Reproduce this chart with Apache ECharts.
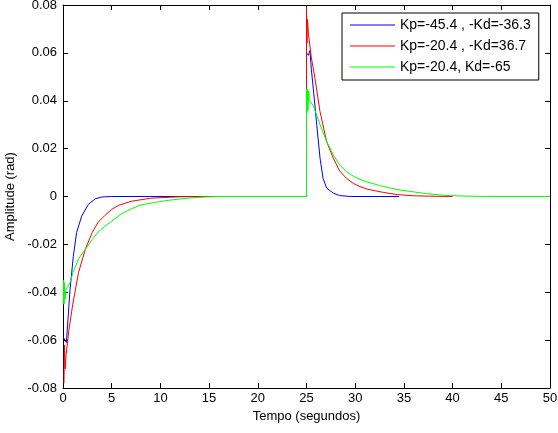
<!DOCTYPE html>
<html>
<head>
<meta charset="utf-8">
<script src="https://cdn.jsdelivr.net/npm/echarts@6/dist/echarts.min.js"></script>
<style>
html,body{margin:0;padding:0;background:#fff;}
#chart{width:558px;height:433px;}
</style>
</head>
<body>
<div id="chart"></div>
<script>
// Tick values
var xTicks = [0, 5, 10, 15, 20, 25, 30, 35, 40, 45, 50];
var yTicks = [-0.08, -0.06, -0.04, -0.02, 0, 0.02, 0.04, 0.06, 0.08];

// Series names
var seriesNames = ['Kp=-45.4 , -Kd=-36.3', 'Kp=-20.4 , -Kd=36.7', 'Kp=-20.4, Kd=-65'];

// Blue: Kp=-45.4, -Kd=-36.3
var blueT = [0.02, 0.2, 0.35, 0.5, 0.72, 1.06, 1.4, 1.92, 2.6, 3.3, 4, 5, 9, 25,
             25, 25.2, 25.35, 25.5, 25.7, 26.05, 26.39, 26.7, 27.07, 27.75, 28.4, 29.5, 34.5];
var blueY = [-0.0588, -0.060, -0.061, -0.052, -0.039, -0.025, -0.015, -0.0082, -0.0033, -0.001, -0.0002, 0, 0, 0,
             0.060, 0.059, 0.061, 0.053, 0.045, 0.030, 0.016, 0.0076, 0.0035, 0.0014, 0.0004, 0, 0];

// Red: Kp=-20.4, -Kd=36.7
var redT = [0.1, 0.15, 0.22, 0.32, 0.6, 1.0, 1.6, 2.3, 3.0, 3.6, 4.3, 5, 5.7, 7, 9, 12, 15, 25,
            25, 25.05, 25.1, 25.2, 25.5, 25.87, 26.39, 27.07, 27.75, 28.4, 29.1, 29.8, 30.4, 31.2, 32.9, 34.3, 36, 38, 40];
var redY = [-0.078, -0.062, -0.072, -0.066, -0.056, -0.045, -0.0317, -0.022, -0.015, -0.0108, -0.0079, -0.0054, -0.0037, -0.002, -0.0007, -0.0001, 0, 0,
            0.079, 0.064, 0.074, 0.068, 0.058, 0.0493, 0.0354, 0.0229, 0.016, 0.0107, 0.0076, 0.0055, 0.0043, 0.0031, 0.0017, 0.0008, 0.0003, 0.0001, 0];

// Green: Kp=-20.4, Kd=-65
var greenT = [0.03, 0.07, 0.11, 0.15, 0.22, 0.3, 0.72, 1.0, 1.6, 2.3, 3.0, 3.6, 4.3, 5, 6, 7, 8, 9.5, 11, 13, 14.6, 16, 25,
              25, 25.05, 25.1, 25.15, 25.22, 25.3, 25.7, 26.39, 27.07, 27.75, 28.4, 29.1, 29.8, 30.4, 31.2, 32.5, 33.5, 34.6, 37.3, 39.4, 42, 45, 50];
var greenY = [-0.045, -0.035, -0.045, -0.036, -0.043, -0.039, -0.036, -0.032, -0.026, -0.022, -0.018, -0.0149, -0.0124, -0.0103, -0.0072, -0.0052, -0.0035, -0.0024, -0.0015, -0.0006, -0.0002, 0, 0,
              0.045, 0.035, 0.045, 0.036, 0.044, 0.040, 0.038, 0.030, 0.023, 0.0174, 0.0132, 0.0104, 0.0085, 0.0073, 0.0061, 0.0046, 0.0036, 0.0027, 0.0012, 0.0004, 0.0001, 0, 0];

function zip(t, y) { return t.map(function (v, i) { return [v, y[i]]; }); }

var FONT = 'Liberation Sans, Arial, Helvetica, sans-serif';
var chart = echarts.init(document.getElementById('chart'), null, {renderer: 'canvas'});

function yFmt(v) { return Math.abs(v) < 1e-9 ? '0' : v.toFixed(2); }

var axisLineStyle = {show: true, onZero: false, lineStyle: {color: '#000', width: 1}};
var tickStyle = {show: true, inside: true, length: 5, lineStyle: {color: '#000', width: 1}};

var option = {
  animation: false,
  backgroundColor: '#fff',
  textStyle: {fontFamily: FONT},
  grid: {left: 63, right: 8, top: 5, bottom: 45, containLabel: false, outerBoundsMode: 'none'},
  legend: {
    data: seriesNames,
    orient: 'vertical',
    left: 342,
    top: 13,
    padding: [5, 8, 6, 8],
    icon: 'rect',
    itemWidth: 45,
    itemHeight: 1,
    itemGap: 7,
    backgroundColor: '#fff',
    borderColor: '#000',
    borderWidth: 1,
    borderRadius: 0,
    textStyle: {fontFamily: FONT, fontSize: 14, lineHeight: 14, color: '#000', padding: [0, 0, 0, 0]}
  },
  xAxis: [{
    type: 'value',
    min: xTicks[0],
    max: xTicks[xTicks.length - 1],
    interval: 5,
    name: 'Tempo (segundos)',
    nameLocation: 'middle',
    nameGap: 13,
    nameTextStyle: {fontFamily: FONT, fontSize: 13, color: '#000'},
    axisLine: axisLineStyle,
    axisTick: tickStyle,
    axisLabel: {fontFamily: FONT, fontSize: 13, color: '#000', margin: 4},
    splitLine: {show: false}
  }, {
    type: 'value',
    position: 'top',
    min: xTicks[0],
    max: xTicks[xTicks.length - 1],
    interval: 5,
    axisLine: axisLineStyle,
    axisTick: tickStyle,
    axisLabel: {show: false},
    splitLine: {show: false}
  }],
  yAxis: [{
    type: 'value',
    min: yTicks[0],
    max: yTicks[yTicks.length - 1],
    interval: 0.02,
    name: 'Amplitude (rad)',
    nameLocation: 'middle',
    nameGap: 45,
    nameTextStyle: {fontFamily: FONT, fontSize: 13, color: '#000'},
    axisLine: axisLineStyle,
    axisTick: tickStyle,
    axisLabel: {fontFamily: FONT, fontSize: 13, color: '#000', margin: 6, formatter: yFmt},
    splitLine: {show: false}
  }, {
    type: 'value',
    position: 'right',
    min: yTicks[0],
    max: yTicks[yTicks.length - 1],
    interval: 0.02,
    axisLine: axisLineStyle,
    axisTick: tickStyle,
    axisLabel: {show: false},
    splitLine: {show: false}
  }],
  series: [{
    name: seriesNames[0], type: 'line', xAxisIndex: 0, yAxisIndex: 0,
    data: zip(blueT, blueY), symbol: 'none', color: '#0000ff',
    lineStyle: {color: '#0000ff', width: 1}, clip: true
  }, {
    name: seriesNames[1], type: 'line', xAxisIndex: 0, yAxisIndex: 0,
    data: zip(redT, redY), symbol: 'none', color: '#ff0000',
    lineStyle: {color: '#ff0000', width: 1}, clip: true
  }, {
    name: seriesNames[2], type: 'line', xAxisIndex: 0, yAxisIndex: 0,
    data: zip(greenT, greenY), symbol: 'none', color: '#00ff00',
    lineStyle: {color: '#00ff00', width: 1}, clip: true
  }]
};
chart.setOption(option);
</script>
</body>
</html>
